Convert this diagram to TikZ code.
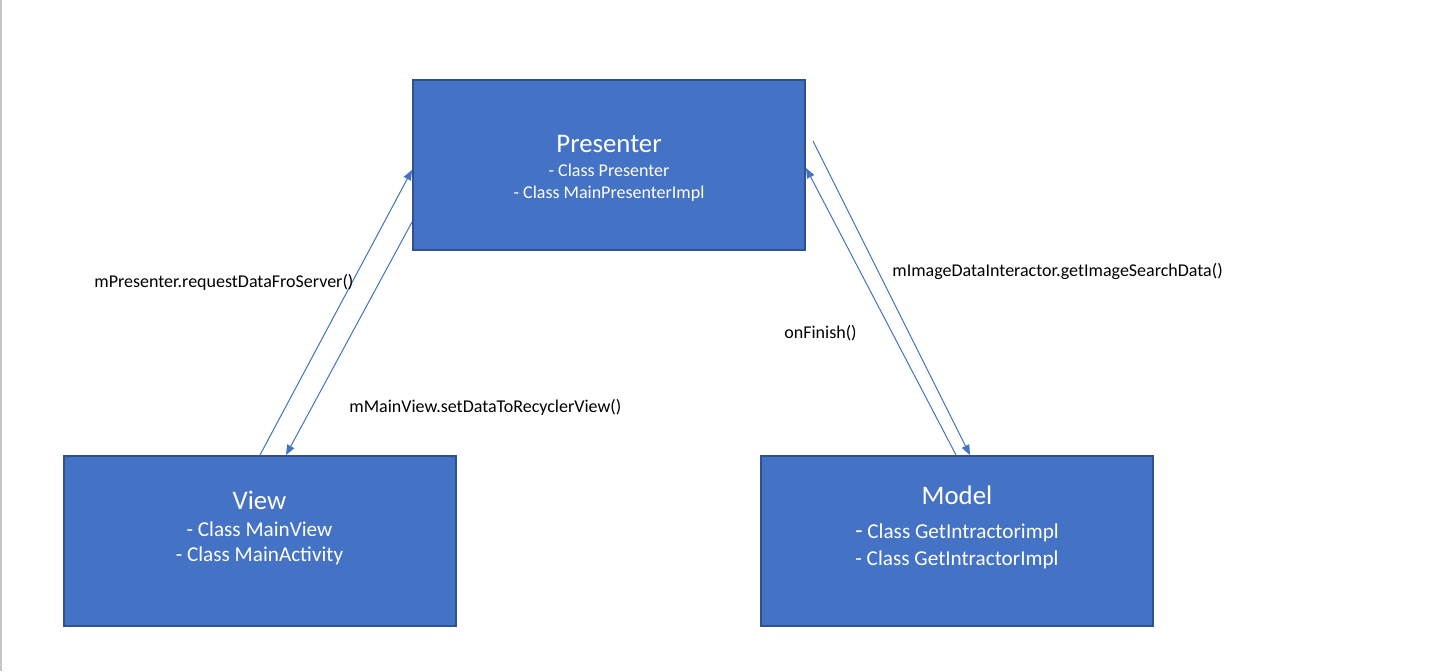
\documentclass[tikz,border=0pt]{standalone}
\usepackage{fontspec}
\setmainfont{Carlito}
\usetikzlibrary{arrows.meta,positioning}
\definecolor{boxblue}{HTML}{4472C4}
\definecolor{boxedge}{HTML}{2F528F}
\tikzset{>/.tip={Triangle[length=5pt,width=4pt]}}
\tikzset{
  layerbox/.style={draw=boxedge,line width=1pt,fill=boxblue,minimum width=196pt,minimum height=85pt,inner sep=0pt},
  layertext/.style={text=white,align=center,font=\fontsize{10.6}{12.5}\selectfont},
  call/.style={draw=boxblue,line width=0.5pt,->},
  calllabel/.style={anchor=west,inner sep=0pt,font=\fontsize{9}{11}\selectfont}
}
\newcommand\layertitle[1]{{\fontsize{13.4}{16}\selectfont #1}}

\begin{document}
\begin{tikzpicture}[x=0.5pt,y=-0.5pt]
        \useasboundingbox (0,0) rectangle (1454,671);
        \draw[black!22,line width=1pt] (1,0) -- (1,671);
        % the three layers
        \node[layerbox](presenter) at (609,165){};
        \node[layerbox](view) at (259.5,541){};
        \node[layerbox](model) at (957,541){};
        \node[layertext,font=\fontsize{9}{11}\selectfont](presentertext) at (609,168){\layertitle{Presenter}\\[1pt]- Class Presenter\\- Class MainPresenterImpl};
        \node[layertext](viewtext) at (259.5,528){\layertitle{View}\\[1pt]- Class MainView\\- Class MainActivity};
        \node[layertext](modeltext) at (957,527){\layertitle{Model}\\[4.5pt]{\large -} Class GetIntractorimpl\\[1pt]- Class GetIntractorImpl};
        % calls between the layers
        \coordinate(askmodel) at (813,141);
        \draw[call] (view.north -| 260,0) -- (presenter.west |- 0,170);
        \draw[call] (presenter.west |- 0,222) -- (view.north -| 286,0);
        \draw[call] (askmodel) -- (model.north -| 970,0);
        \draw[call] (model.north -| 956,0) -- (presenter.east |- 0,168);
        \node[calllabel](request) at (94,282){mPresenter.requestDataFroServer()};
        \node[calllabel](setdata) at (349,407){mMainView.setDataToRecyclerView()};
        \node[calllabel](getdata) at (892,271){mImageDataInteractor.getImageSearchData()};
        \node[calllabel](finish) at (784,333){onFinish()};
\end{tikzpicture}
\end{document}
